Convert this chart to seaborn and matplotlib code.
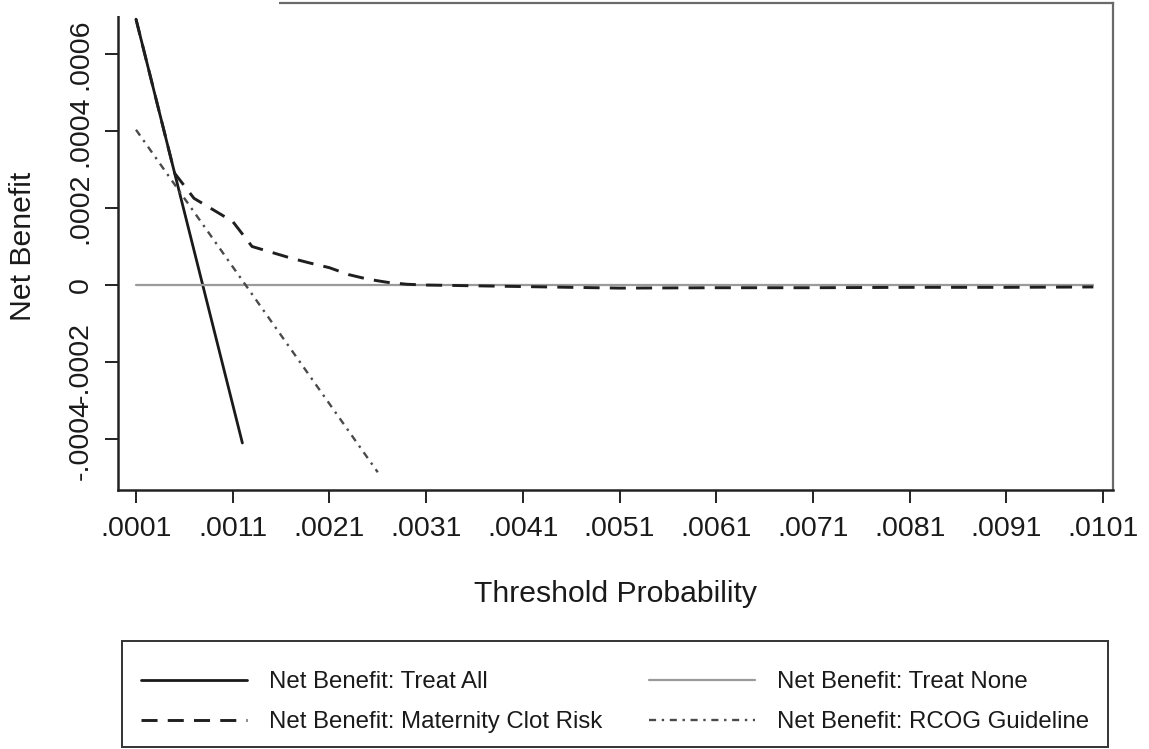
import numpy as np
import pandas as pd
import matplotlib
matplotlib.use("Agg")
import matplotlib.pyplot as plt
from matplotlib.patches import Rectangle
import seaborn as sns

# Decision-curve series: threshold probability vs net benefit
thr_all = [0.0001, 0.0006, 0.0012]
nb_all = [0.00069, 0.00019, -0.00041]

thr_none = [0.0001, 0.0100]
nb_none = [0.0, 0.0]

thr_model = [0.0001, 0.0003, 0.0005, 0.0007, 0.0009, 0.0011, 0.0013, 0.0015,
             0.0017, 0.0019, 0.0021, 0.0023, 0.0025, 0.0027, 0.0029, 0.0031,
             0.0036, 0.0041, 0.0051, 0.0061, 0.0071, 0.0081, 0.0091, 0.0100]
nb_model = [0.00069, 0.00049, 0.00029, 0.000225, 0.000195, 0.000165, 0.000100,
            0.000085, 0.000070, 0.000057, 0.000045, 0.000027, 0.000015, 0.000007,
            0.000002, 0.0, -0.000002, -0.000004, -0.000008, -0.000007, -0.000007,
            -0.000006, -0.000006, -0.000005]

thr_rcog = [0.0001, 0.0026]
nb_rcog = [0.000403, -0.000486]

x_ticks = [0.0001, 0.0011, 0.0021, 0.0031, 0.0041, 0.0051, 0.0061, 0.0071,
           0.0081, 0.0091, 0.0101]
x_tick_labels = [".0001", ".0011", ".0021", ".0031", ".0041", ".0051", ".0061",
                 ".0071", ".0081", ".0091", ".0101"]
y_ticks = [-0.0004, -0.0002, 0.0, 0.0002, 0.0004, 0.0006]
y_tick_labels = ["-.0004", "-.0002", "0", ".0002", ".0004", ".0006"]

labels = ["Net Benefit: Treat All", "Net Benefit: Treat None",
          "Net Benefit: Maternity Clot Risk", "Net Benefit: RCOG Guideline"]

sns.set_style("white")
plt.rcParams["font.family"] = ["Liberation Sans", "DejaVu Sans"]

W, H = 1149, 749
fig = plt.figure(figsize=(W / 100, H / 100), dpi=100)
ax = fig.add_axes([118 / W, 1 - 490 / H, 995 / W, 487 / H])

df_all = pd.DataFrame({"x": thr_all, "y": nb_all})
df_none = pd.DataFrame({"x": thr_none, "y": nb_none})
df_model = pd.DataFrame({"x": thr_model, "y": nb_model})
df_rcog = pd.DataFrame({"x": thr_rcog, "y": nb_rcog})

sns.lineplot(data=df_all, x="x", y="y", ax=ax, color="#1a1a1a", lw=2.0,
             label=labels[0], sort=False)
sns.lineplot(data=df_none, x="x", y="y", ax=ax, color="#9a9a9a", lw=1.6,
             label=labels[1], sort=False)
sns.lineplot(data=df_model, x="x", y="y", ax=ax, color="#1f1f1f", lw=2.1,
             label=labels[2], sort=False, linestyle=(0, (5.5, 3.5)))
sns.lineplot(data=df_rcog, x="x", y="y", ax=ax, color="#4a4a4a", lw=1.7,
             label=labels[3], sort=False, linestyle=(0, (3.0, 2.4, 1.0, 2.4)))

ax.set_xlim(-0.0000861, 0.010203)
ax.set_ylim(-0.000532, 0.000732)

ax.set_xticks(x_ticks)
ax.set_xticklabels(x_tick_labels)
ax.set_yticks(y_ticks)
ax.set_yticklabels(y_tick_labels)

ax.tick_params(axis="both", which="major", direction="out", length=9.4,
               width=1.4, color="#222222", labelsize=20.5, labelcolor="#1a1a1a",
               pad=9, bottom=True, left=True)
ax.tick_params(axis="y", labelrotation=90, pad=8)
for t in ax.get_yticklabels():
    t.set_va("center")

for side in ["left", "bottom"]:
    ax.spines[side].set_color("#222222")
    ax.spines[side].set_linewidth(1.8)
for side in ["top", "right"]:
    ax.spines[side].set_color("#6a6a6a")
    ax.spines[side].set_linewidth(1.6)

ax.set_xlabel("Threshold Probability", fontsize=21.7, color="#1a1a1a")
ax.set_ylabel("Net Benefit", fontsize=21.7, color="#1a1a1a")
ax.xaxis.set_label_coords(0.5, -0.184)
ax.yaxis.set_label_coords(-0.0814, 0.5)

# legend below the plot: two columns, entries filled column-wise
handles, lbls = ax.get_legend_handles_labels()
order = [0, 2, 1, 3]
ax.get_legend().remove()
leg = fig.legend([handles[i] for i in order], [lbls[i] for i in order],
                 loc="upper left", ncol=2, mode="expand",
                 bbox_to_anchor=(122 / W, 1 - 652 / H, 986 / W, 0.0),
                 fontsize=17.3, frameon=False,
                 handlelength=4.4, handletextpad=0.92, borderpad=0.8,
                 labelspacing=0.75, borderaxespad=0.0)
for t in leg.get_texts():
    t.set_color("#1a1a1a")

# legend box outline
fig.patches.append(Rectangle((122 / W, 1 - 747 / H), 986 / W, 106 / H,
                             transform=fig.transFigure, facecolor="none",
                             edgecolor="#333333", lw=1.4, zorder=5))

# blank band across the upper-left corner
fig.patches.append(Rectangle((0, 1 - 16 / H), 279 / W, 16 / H,
                             transform=fig.transFigure, facecolor="white",
                             edgecolor="none", zorder=10))

fig.savefig("out.png", dpi=100, facecolor="white")
